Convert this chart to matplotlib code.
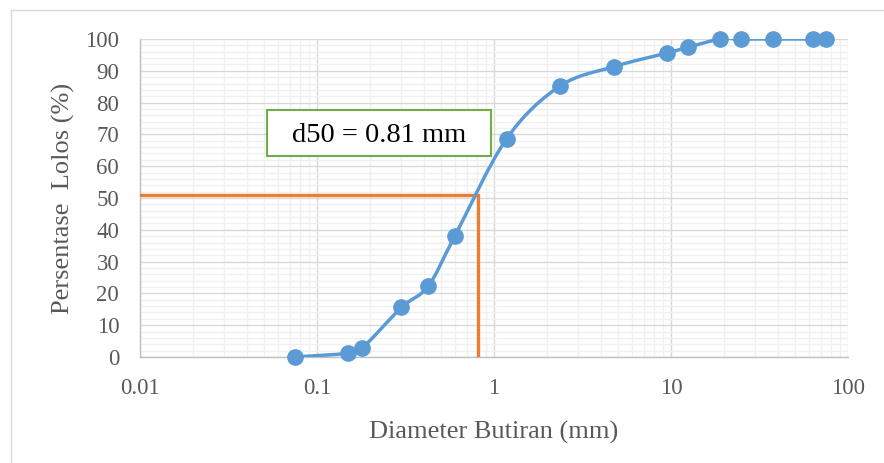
import matplotlib
matplotlib.use("Agg")
import matplotlib.pyplot as plt
import numpy as np
from matplotlib.path import Path
from matplotlib.patches import PathPatch, Rectangle
from matplotlib.lines import Line2D
from matplotlib.ticker import MultipleLocator, LogLocator, FixedFormatter, FixedLocator

# data: ukuran saringan (mm) dan persentase lolos
diameter = [0.075, 0.15, 0.18, 0.3, 0.425, 0.6, 1.18, 2.36, 4.75, 9.5, 12.5,
            19, 25, 37.5, 63, 75]
lolos = [0.0, 1.2, 2.8, 15.6, 22.3, 38.0, 68.7, 85.2, 91.3, 95.6, 97.4,
         100, 100, 100, 100, 100]
d50 = 0.81
p50 = 51
xticks = [0.01, 0.1, 1, 10, 100]
xtick_labels = ["0.01", "0.1", "1", "10", "100"]

plt.rcParams['font.family'] = ['Liberation Serif', 'DejaVu Serif']

blue = '#5B9BD5'
orange = '#ED7D31'
green = '#70AD47'
txt = '#595959'

fig = plt.figure(figsize=(8.84, 4.63), dpi=100)
ax = fig.add_axes([0.1584, 0.2289, 0.8009, 0.6869])
ax.set_xscale('log')
ax.set_xlim(0.01, 100)
ax.set_ylim(0, 100)

# gridlines
ax.xaxis.set_major_locator(FixedLocator(xticks))
ax.xaxis.set_major_formatter(FixedFormatter(xtick_labels))
ax.xaxis.set_minor_locator(LogLocator(base=10, subs=np.arange(2, 10)))
ax.xaxis.set_minor_formatter(plt.NullFormatter())
ax.yaxis.set_major_locator(MultipleLocator(10))
ax.yaxis.set_minor_locator(MultipleLocator(2))
ax.grid(which='major', color='#D9D9D9', linewidth=1.0)
ax.grid(which='minor', color='#F0F0F0', linewidth=1.0)
ax.set_axisbelow(True)
ax.tick_params(which='both', length=0, labelsize=16.5, labelcolor=txt)
ax.tick_params(axis='x', pad=15)
ax.tick_params(axis='y', pad=15)
for s in ['top', 'right']:
    ax.spines[s].set_visible(False)
for s in ['left', 'bottom']:
    ax.spines[s].set_color('#BFBFBF')
    ax.spines[s].set_linewidth(1.0)

# garis d50
ax.plot([0.01, d50, d50], [p50, p50, 0], color=orange, linewidth=2.4,
        solid_joinstyle='miter', zorder=3)

# kurva halus (bezier seperti Excel) di ruang log
lx = np.log10(diameter)
ly = np.array(lolos, dtype=float)
n = len(lx)
verts = [(diameter[0], lolos[0])]
codes = [Path.MOVETO]
for i in range(n - 1):
    p0 = (lx[max(i - 1, 0)], ly[max(i - 1, 0)])
    p1 = (lx[i], ly[i])
    p2 = (lx[i + 1], ly[i + 1])
    p3 = (lx[min(i + 2, n - 1)], ly[min(i + 2, n - 1)])
    c1 = (p1[0] + (p2[0] - p0[0]) / 6, p1[1] + (p2[1] - p0[1]) / 6)
    c2 = (p2[0] - (p3[0] - p1[0]) / 6, p2[1] - (p3[1] - p1[1]) / 6)
    for c in (c1, c2, p2):
        verts.append((10 ** c[0], c[1]))
        codes.append(Path.CURVE4)
curve = PathPatch(Path(verts, codes), facecolor='none', edgecolor=blue,
                  linewidth=2.5, capstyle='round', joinstyle='round', zorder=4)
ax.add_patch(curve)
ax.plot(diameter, lolos, 'o', color=blue, markersize=11, zorder=5, clip_on=False)

# kotak keterangan d50
ax.add_patch(Rectangle((0.0522, 63.2), 0.9618 - 0.0522, 77.7 - 63.2,
                       facecolor='white', edgecolor=green, linewidth=1.5, zorder=6))
ax.text(0.224, 69.6, "d50 = 0.81 mm", fontsize=20.5, color='black',
        ha='center', va='center', zorder=7)

ax.set_xlabel("Diameter Butiran (mm)", fontsize=19, color=txt, labelpad=16)
ax.set_ylabel("Persentase  Lolos (%)", fontsize=19, color=txt, labelpad=7)

# bingkai chart
fig.add_artist(Line2D([11 / 884, 1], [1 - 10 / 463, 1 - 10 / 463],
                      transform=fig.transFigure, color='#D9D9D9', linewidth=1))
fig.add_artist(Line2D([11 / 884, 11 / 884], [0, 1 - 10 / 463],
                      transform=fig.transFigure, color='#D9D9D9', linewidth=1))

fig.savefig('out.png', dpi=100)
